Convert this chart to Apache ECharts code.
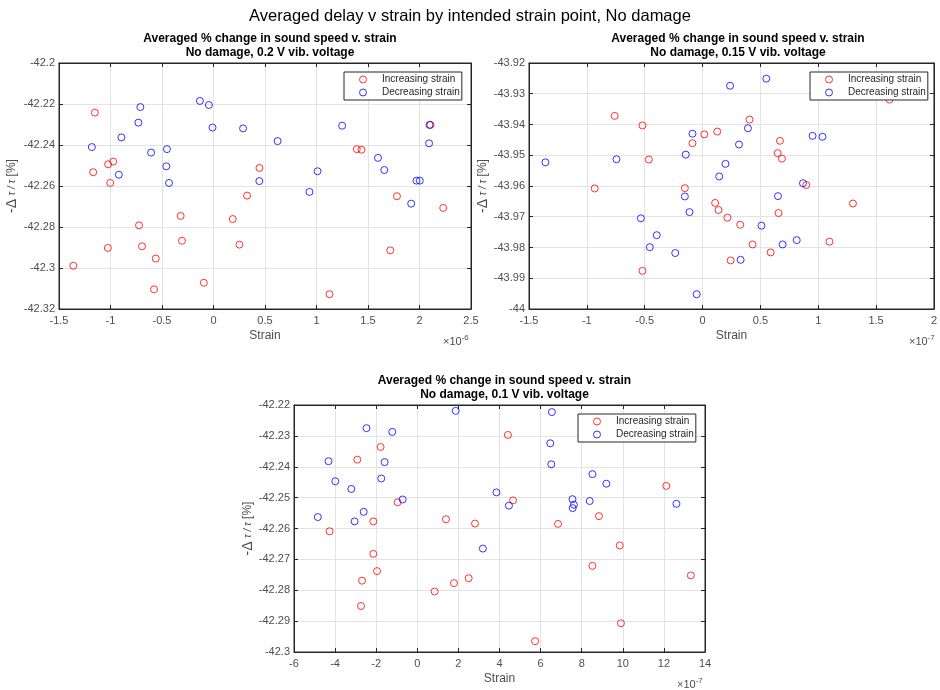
<!DOCTYPE html>
<html>
<head>
<meta charset="utf-8">
<script src="https://cdn.jsdelivr.net/npm/echarts@6/dist/echarts.min.js"></script>
<style>
  html, body { margin: 0; padding: 0; background: #fff; }
  #myChart { width: 940px; height: 690px; }
</style>
</head>
<body>
<div id="myChart"></div>
<script>
// strain values are in units of the axis exponent (x10^-6 for plot 1, x10^-7 for plots 2 and 3)
var incX1 = [-1.361, -1.168, -1.152, -1.026, -1.023, -1.003, -0.974, -0.723, -0.694, -0.577, -0.561, -0.319, -0.306, -0.094, 0.187, 0.252, 0.326, 0.446, 1.126, 1.391, 1.436, 1.716, 1.781, 2.107, 2.23];
var incY1 = [-42.2989, -42.2533, -42.2242, -42.2902, -42.2494, -42.2585, -42.2481, -42.2792, -42.2894, -42.3104, -42.2954, -42.2746, -42.2867, -42.3072, -42.2761, -42.2886, -42.2647, -42.2512, -42.3128, -42.2420, -42.2423, -42.2914, -42.2650, -42.2302, -42.2707];
var decX1 = [-1.181, -0.919, -0.894, -0.729, -0.71, -0.606, -0.458, -0.452, -0.432, -0.132, -0.045, -0.01, 0.287, 0.445, 0.622, 0.932, 1.01, 1.249, 1.597, 1.658, 1.919, 1.971, 2.003, 2.093, 2.097];
var decY1 = [-42.2410, -42.2545, -42.2363, -42.2291, -42.2215, -42.2437, -42.2504, -42.2420, -42.2585, -42.2185, -42.2205, -42.2315, -42.2319, -42.2576, -42.2381, -42.2629, -42.2528, -42.2306, -42.2463, -42.2522, -42.2686, -42.2574, -42.2574, -42.2392, -42.2302];

var incX2 = [-0.932, -0.759, -0.519, -0.519, -0.464, -0.153, -0.087, 0.015, 0.109, 0.127, 0.138, 0.215, 0.243, 0.326, 0.406, 0.432, 0.589, 0.649, 0.657, 0.669, 0.686, 0.897, 1.097, 1.30, 1.616];
var incY2 = [-43.9608, -43.9372, -43.9403, -43.9876, -43.9514, -43.9607, -43.9461, -43.9432, -43.9655, -43.9423, -43.9678, -43.9703, -43.9842, -43.9726, -43.9384, -43.9790, -43.9816, -43.9493, -43.9688, -43.9453, -43.9511, -43.9597, -43.9781, -43.9657, -43.9319];
var decX2 = [-1.358, -0.744, -0.533, -0.456, -0.396, -0.236, -0.153, -0.145, -0.113, -0.087, -0.051, 0.144, 0.198, 0.238, 0.315, 0.329, 0.392, 0.509, 0.551, 0.652, 0.692, 0.814, 0.868, 0.951, 1.037];
var decY2 = [-43.9523, -43.9513, -43.9705, -43.9799, -43.9760, -43.9818, -43.9634, -43.9498, -43.9685, -43.9430, -43.9952, -43.9569, -43.9528, -43.9274, -43.9465, -43.9840, -43.9412, -43.9729, -43.9251, -43.9633, -43.9790, -43.9776, -43.9591, -43.9437, -43.9440];

var incX3 = [-4.27, -2.92, -2.74, -2.69, -2.14, -2.14, -1.96, -1.786, -0.958, 0.844, 1.396, 1.786, 2.5, 2.81, 4.41, 4.66, 5.73, 6.85, 8.52, 8.84, 9.85, 9.91, 12.12, 13.31];
var incY3 = [-42.2609, -42.2377, -42.2851, -42.2769, -42.2577, -42.2682, -42.2738, -42.2336, -42.2515, -42.2804, -42.2570, -42.2777, -42.2761, -42.2584, -42.2297, -42.2509, -42.2965, -42.2585, -42.2721, -42.2560, -42.2655, -42.2907, -42.2462, -42.2752];
var decX3 = [-4.84, -4.32, -3.99, -3.21, -3.05, -2.61, -2.47, -1.753, -1.59, -1.218, -0.714, 1.867, 3.19, 3.85, 4.46, 6.47, 6.52, 6.55, 7.55, 7.56, 7.62, 8.39, 8.52, 9.2, 12.61];
var decY3 = [-42.2563, -42.2382, -42.2447, -42.2472, -42.2577, -42.2546, -42.2275, -42.2438, -42.2385, -42.2287, -42.2506, -42.2219, -42.2665, -42.2483, -42.2526, -42.2324, -42.2392, -42.2223, -42.2505, -42.2534, -42.2523, -42.2511, -42.2424, -42.2455, -42.2520];

var xRanges = [[-1.5, 2.5, 0.5], [-1.5, 2, 0.5], [-6, 14, 2]];
var yRanges = [[-42.32, -42.2, 0.02], [-44, -43.92, 0.01], [-42.3, -42.22, 0.01]];
var exponents = ['-6', '-7', '-7'];
var subTitles = ['No damage, 0.2 V vib. voltage', 'No damage, 0.15 V vib. voltage', 'No damage, 0.1 V vib. voltage'];

var FONT = "'Liberation Sans', Arial, sans-serif";
var AX = '#262626';
var LBL = '#4d4d4d';

function pairs(xs, ys) {
    var out = [];
    for (var i = 0; i < xs.length; i++) out.push([xs[i], ys[i]]);
    return out;
}

var grids = [
    { left: 59, top: 63, width: 412, height: 246 },
    { left: 529, top: 63, width: 408, height: 246 },
    { left: 294, top: 405, width: 411, height: 247 }
];
var yNameGap = [40, 39, 37];

var xAxes = [], yAxes = [], series = [], legends = [], titles = [];

titles.push({
    text: 'Averaged delay v strain by intended strain point, No damage',
    left: 'center', top: 3,
    textStyle: { fontFamily: FONT, fontSize: 16.5, fontWeight: 'normal', color: '#000' }
});

grids.forEach(function (g, i) {
    g.show = true;
    g.borderColor = AX;
    g.borderWidth = 1;
    g.containLabel = false;
    var xr = xRanges[i], yr = yRanges[i];
    xAxes.push({
        gridIndex: i, type: 'value', position: 'bottom',
        min: xr[0], max: xr[1], interval: xr[2],
        name: 'Strain', nameLocation: 'middle', nameGap: 21,
        nameTextStyle: { fontFamily: FONT, fontSize: 12, color: LBL },
        axisLine: { show: true, onZero: false, lineStyle: { color: AX, width: 1 } },
        axisTick: { show: true, inside: true, length: 4, lineStyle: { color: AX } },
        axisLabel: { fontFamily: FONT, fontSize: 11, color: LBL, margin: 6, showMinLabel: true, showMaxLabel: true },
        splitLine: { show: true, lineStyle: { color: '#e3e3e3', width: 1 } }
    });
    xAxes.push({
        gridIndex: i, type: 'value', position: 'top',
        min: xr[0], max: xr[1], interval: xr[2],
        axisLine: { show: true, onZero: false, lineStyle: { color: AX } },
        axisTick: { show: true, inside: true, length: 4, lineStyle: { color: AX } },
        axisLabel: { show: false },
        splitLine: { show: false }
    });
    yAxes.push({
        gridIndex: i, type: 'value', position: 'left',
        min: yr[0], max: yr[1], interval: yr[2],
        name: '{d|-Δ} {t|τ / τ} [%]', nameLocation: 'middle', nameGap: yNameGap[i], nameRotate: 90,
        nameTextStyle: {
            fontFamily: FONT, fontSize: 12, color: LBL,
            rich: {
                d: { fontFamily: FONT, fontSize: 14, color: LBL },
                t: { fontFamily: FONT, fontSize: 10, fontStyle: 'italic', color: LBL }
            }
        },
        axisLine: { show: true, onZero: false, lineStyle: { color: AX, width: 1 } },
        axisTick: { show: true, inside: true, length: 4, lineStyle: { color: AX } },
        axisLabel: { fontFamily: FONT, fontSize: 11, color: LBL, margin: 4, showMinLabel: true, showMaxLabel: true },
        splitLine: { show: true, lineStyle: { color: '#e3e3e3', width: 1 } }
    });
    yAxes.push({
        gridIndex: i, type: 'value', position: 'right',
        min: yr[0], max: yr[1], interval: yr[2],
        axisLine: { show: true, onZero: false, lineStyle: { color: AX } },
        axisTick: { show: true, inside: true, length: 4, lineStyle: { color: AX } },
        axisLabel: { show: false },
        splitLine: { show: false }
    });

    var cx = g.left + g.width / 2;
    titles.push({
        text: 'Averaged % change in sound speed v. strain\n' + subTitles[i],
        left: cx, top: g.top - 36, textAlign: 'center',
        textStyle: { fontFamily: FONT, fontSize: 12, fontWeight: 'bold', color: '#000', lineHeight: 13.5, align: 'center' }
    });
    titles.push({
        text: '×10{s|' + exponents[i] + '}',
        left: g.left + g.width - 33, top: g.top + g.height + 20,
        textStyle: {
            fontFamily: FONT, fontSize: 11, fontWeight: 'normal', color: LBL,
            rich: { s: { fontFamily: FONT, fontSize: 8, color: LBL, verticalAlign: 'top', padding: [0, 0, 7, 0] } }
        }
    });

    legends.push({
        orient: 'vertical',
        left: g.left + g.width - 127, top: g.top + 9,
        backgroundColor: '#fff',
        borderColor: AX, borderWidth: 1, borderRadius: 0,
        padding: [1, 2, 1, 15],
        itemGap: 0,
        itemWidth: 8, itemHeight: 7,
        textStyle: { fontFamily: FONT, fontSize: 10, lineHeight: 13, color: '#262626', padding: [0, 0, 0, 10] },
        data: [
            { name: 'Increasing strain', icon: 'circle', itemStyle: { color: 'rgba(0,0,0,0)', borderColor: '#ff0000', borderWidth: 1 } },
            { name: 'Decreasing strain', icon: 'circle', itemStyle: { color: 'rgba(0,0,0,0)', borderColor: '#0000ff', borderWidth: 1 } }
        ]
    });
});

var incData = [pairs(incX1, incY1), pairs(incX2, incY2), pairs(incX3, incY3)];
var decData = [pairs(decX1, decY1), pairs(decX2, decY2), pairs(decX3, decY3)];

for (var k = 0; k < 3; k++) {
    series.push({
        name: 'Increasing strain', type: 'scatter',
        xAxisIndex: k * 2, yAxisIndex: k * 2,
        symbol: 'circle', symbolSize: 7,
        itemStyle: { color: 'rgba(0,0,0,0)', borderColor: '#ff0000', borderWidth: 1 },
        data: incData[k]
    });
    series.push({
        name: 'Decreasing strain', type: 'scatter',
        xAxisIndex: k * 2, yAxisIndex: k * 2,
        symbol: 'circle', symbolSize: 7,
        itemStyle: { color: 'rgba(0,0,0,0)', borderColor: '#0000ff', borderWidth: 1 },
        data: decData[k]
    });
}

var option = {
    animation: false,
    backgroundColor: '#fff',
    title: titles,
    legend: legends,
    grid: grids,
    xAxis: xAxes,
    yAxis: yAxes,
    series: series
};

var myChart = echarts.init(document.getElementById('myChart'));
myChart.setOption(option);
</script>
</body>
</html>
